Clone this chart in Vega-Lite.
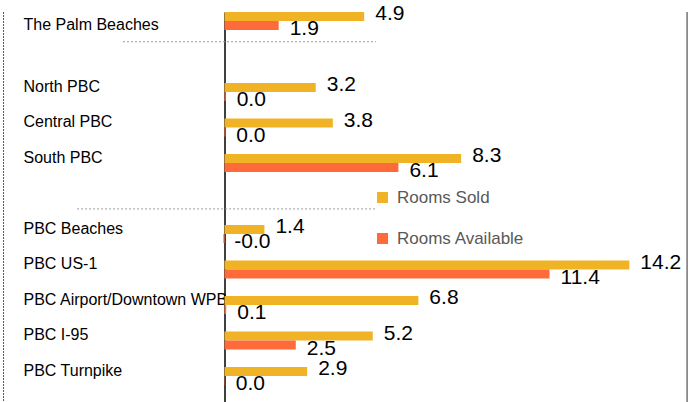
{
  "$schema": "https://vega.github.io/schema/vega-lite/v6.json",
  "width": 463,
  "height": 390,
  "autosize": {"type": "none"},
  "padding": {"left": 224.5, "top": 12, "right": 0, "bottom": 0},
  "background": "white",
  "config": {
    "view": {"stroke": null}
  },
  "data": {
    "values": [
      {"cat": "The Palm Beaches", "series": "Rooms Sold", "v": 4.9, "label": "4.9"},
      {"cat": "The Palm Beaches", "series": "Rooms Available", "v": 1.9, "label": "1.9"},
      {"cat": "North PBC", "series": "Rooms Sold", "v": 3.2, "label": "3.2"},
      {"cat": "North PBC", "series": "Rooms Available", "v": 0.04, "label": "0.0"},
      {"cat": "Central PBC", "series": "Rooms Sold", "v": 3.8, "label": "3.8"},
      {"cat": "Central PBC", "series": "Rooms Available", "v": 0.03, "label": "0.0"},
      {"cat": "South PBC", "series": "Rooms Sold", "v": 8.3, "label": "8.3"},
      {"cat": "South PBC", "series": "Rooms Available", "v": 6.1, "label": "6.1"},
      {"cat": "PBC Beaches", "series": "Rooms Sold", "v": 1.4, "label": "1.4"},
      {"cat": "PBC Beaches", "series": "Rooms Available", "v": -0.04, "label": "-0.0"},
      {"cat": "PBC US-1", "series": "Rooms Sold", "v": 14.2, "label": "14.2"},
      {"cat": "PBC US-1", "series": "Rooms Available", "v": 11.4, "label": "11.4"},
      {"cat": "PBC Airport/Downtown WPB", "series": "Rooms Sold", "v": 6.8, "label": "6.8"},
      {"cat": "PBC Airport/Downtown WPB", "series": "Rooms Available", "v": 0.06, "label": "0.1"},
      {"cat": "PBC I-95", "series": "Rooms Sold", "v": 5.2, "label": "5.2"},
      {"cat": "PBC I-95", "series": "Rooms Available", "v": 2.5, "label": "2.5"},
      {"cat": "PBC Turnpike", "series": "Rooms Sold", "v": 2.9, "label": "2.9"},
      {"cat": "PBC Turnpike", "series": "Rooms Available", "v": 0.01, "label": "0.0"}
    ]
  },
  "layer": [
    {
      "data": {"values": [{"k": 1}]},
      "mark": {"type": "rule", "color": "#555555", "strokeWidth": 1, "strokeDash": [2, 1]},
      "encoding": {
        "x": {"datum": -7.75, "type": "quantitative", "scale": {"domain": [0, 16.24]}, "axis": null}
      }
    },
    {
      "data": {"values": [{"k": 1}]},
      "mark": {"type": "rule", "color": "#8a8a8a", "strokeWidth": 2},
      "encoding": {
        "x": {"datum": 16.23, "type": "quantitative", "scale": {"domain": [0, 16.24]}, "axis": null}
      }
    },
    {
      "data": {"values": [{"cat": "gap1"}]},
      "mark": {"type": "rule", "color": "#9a9a9a", "strokeWidth": 1, "strokeDash": [2, 2]},
      "encoding": {
        "x": {"datum": -3.56, "type": "quantitative", "scale": {"domain": [0, 16.24]}, "axis": null},
        "x2": {"datum": 5.31},
        "y": {"field": "cat", "type": "nominal", "bandPosition": -0.32}
      }
    },
    {
      "data": {"values": [{"cat": "gap2"}]},
      "mark": {"type": "rule", "color": "#9a9a9a", "strokeWidth": 1, "strokeDash": [2, 2]},
      "encoding": {
        "x": {"datum": -5.17, "type": "quantitative", "scale": {"domain": [0, 16.24]}, "axis": null},
        "x2": {"datum": 5.31},
        "y": {"field": "cat", "type": "nominal", "bandPosition": 1.08}
      }
    },
    {
      "mark": {"type": "bar"},
      "encoding": {
        "x": {"field": "v", "type": "quantitative", "scale": {"domain": [0, 16.24], "nice": false, "zero": true}, "axis": null},
        "y": {
          "field": "cat", "type": "nominal",
          "scale": {
            "domain": ["The Palm Beaches", "gap1", "North PBC", "Central PBC", "South PBC", "gap2", "PBC Beaches", "PBC US-1", "PBC Airport/Downtown WPB", "PBC I-95", "PBC Turnpike"],
            "paddingInner": 0.493, "paddingOuter": 0.24, "align": 0, "round": false
          },
          "axis": {
            "title": null,
            "ticks": false,
            "domain": true,
            "domainColor": "#000000",
            "domainWidth": 1.5,
            "labelAlign": "left",
            "labelBaseline": "middle",
            "labelPadding": 201.5,
            "labelLimit": 400,
            "labelFont": "Liberation Sans",
            "labelFontSize": 16,
            "labelColor": "#000000",
            "labelOffset": {"condition": {"test": "datum.value === 'The Palm Beaches'", "value": 4}, "value": -5},
            "labelExpr": "indexof(datum.value, 'gap') === 0 ? '' : datum.value",
            "grid": false
          }
        },
        "yOffset": {"field": "series", "type": "nominal", "scale": {"domain": ["Rooms Sold", "Rooms Available"], "paddingInner": 0, "paddingOuter": 0}},
        "color": {
          "field": "series", "type": "nominal",
          "scale": {"domain": ["Rooms Sold", "Rooms Available"], "range": ["#F0B326", "#FF6A3A"]},
          "legend": {
            "title": null,
            "orient": "none",
            "legendX": 149.5,
            "legendY": 177,
            "padding": 0,
            "symbolType": "square",
            "symbolSize": 121,
            "symbolStrokeWidth": 0,
            "labelFont": "Liberation Sans",
            "labelFontSize": 17,
            "labelColor": "#595959",
            "labelOffset": 6,
            "rowPadding": 23
          }
        }
      }
    },
    {
      "transform": [{"filter": "datum.series === 'Rooms Sold'"}],
      "mark": {"type": "text", "align": "left", "baseline": "middle", "dx": 11, "dy": -2, "font": "Liberation Sans", "fontSize": 21, "color": "#000000"},
      "encoding": {
        "x": {"field": "v", "type": "quantitative", "scale": {"domain": [0, 16.24]}, "axis": null},
        "y": {"field": "cat", "type": "nominal"},
        "yOffset": {"field": "series", "type": "nominal"},
        "text": {"field": "label", "type": "nominal"}
      }
    },
    {
      "transform": [{"filter": "datum.series === 'Rooms Available'"}],
      "mark": {"type": "text", "align": "left", "baseline": "middle", "dx": 11, "dy": 4, "font": "Liberation Sans", "fontSize": 21, "color": "#000000"},
      "encoding": {
        "x": {"field": "v", "type": "quantitative", "scale": {"domain": [0, 16.24]}, "axis": null},
        "y": {"field": "cat", "type": "nominal"},
        "yOffset": {"field": "series", "type": "nominal"},
        "text": {"field": "label", "type": "nominal"}
      }
    }
  ]
}
